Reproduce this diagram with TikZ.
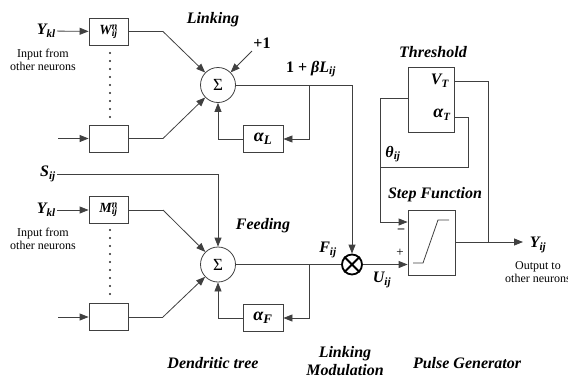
\documentclass[tikz,border=0pt]{standalone}
\usepackage{fontspec}
\setmainfont{Liberation Serif}
\usetikzlibrary{arrows.meta}
\tikzset{
  ln/.style={line width=0.8pt, draw=black!75},
  arr/.style={ln, -{Triangle[length=9pt,width=7pt]}},
  blk/.style={ln, draw, rectangle, minimum width=39pt, minimum height=27pt, inner sep=0pt},
  sumc/.style={ln, draw, circle, minimum size=35pt, inner sep=0pt, font=\fontsize{17}{17}\selectfont},
  lab/.style={font=\fontsize{16}{18}\selectfont\bfseries\itshape, inner sep=1pt},
  sml/.style={font=\fontsize{12}{13.5}\selectfont, align=center, inner sep=0pt},
  dotl/.style={line width=2.2pt, line cap=round, dash pattern=on 0pt off 8pt, black!85},
}
\begin{document}
\begin{tikzpicture}[x=1pt,y=-1pt]
\useasboundingbox (0,0) rectangle (568,378);
% ---------- Linking ----------
\node[lab, anchor=east] (Ykl1) at (57,31) {Y\textsubscript{kl}};
\node[sml] (in1) at (43,60) {Input from\\other neurons};
\node[blk] (W) at (108.5,31.5) {\fontsize{14}{14}\selectfont\bfseries\itshape W\rlap{\textsuperscript{n}}\textsubscript{ij}};
\node[blk] (B1) at (108.5,138.5) {};
\coordinate (i2) at (58,138.5);
\draw[dotl] (110,53) -- (110,120);
\node[sumc] (sL) at (218,85) {Σ};
\node[lab] (link) at (213,20) {Linking};
\node[lab] (p1) at (262,43) {\upshape +1};
\coordinate (p1s) at (252,51);
\node[blk, minimum width=40pt] (aL) at (263,138.5) {\fontsize{18}{18}\selectfont\bfseries\itshape α\textsubscript{\fontsize{13}{13}\selectfont L}};
\node[lab] (bl) at (311,69) {\upshape 1 + \itshape βL\textsubscript{ij}};
\coordinate (W1) at (163,31.5);
\coordinate (B1r) at (163,138.5);
\coordinate (bL) at (309,85);
\coordinate (bL2) at (309,139);
\coordinate (aLl) at (218,139);
\coordinate (cL) at (352,85);
\draw[ln] (W) -- (W1); \draw[arr] (W1) -- (sL);
\draw[ln] (B1) -- (B1r); \draw[arr] (B1r) -- (sL);
\draw[arr] (Ykl1) -- (W);
\draw[arr] (i2) -- (B1);
\draw[arr] (p1s) -- (sL);
\draw[ln] (sL) -- (cL);
\draw[arr] (bL) -- (bL2) -- (aL.east |- bL2);
\draw[arr] (aL.west |- aLl) -- (aLl) -- (sL);
% ---------- Feeding ----------
\node[lab, anchor=east] (Sij) at (57,174) {S\textsubscript{ij}};
\node[lab, anchor=east] (Ykl2) at (57,210) {Y\textsubscript{kl}};
\node[sml] (in2) at (43,239) {Input from\\other neurons};
\node[blk] (M) at (108.5,210) {\fontsize{14}{14}\selectfont\bfseries\itshape M\rlap{\textsuperscript{n}}\textsubscript{ij}};
\node[blk] (B2) at (108.5,317) {};
\coordinate (i4) at (58,317);
\draw[dotl] (110,230) -- (110,298);
\node[sumc] (sF) at (218,264.5) {Σ};
\node[lab] (feed) at (263,226) {Feeding};
\node[blk, minimum width=40pt] (aF) at (263,317.5) {\fontsize{18}{18}\selectfont\bfseries\itshape α\textsubscript{\fontsize{13}{13}\selectfont F}};
\coordinate (M1) at (163,210);
\coordinate (B2r) at (163,317);
\coordinate (sS) at (218,174);
\coordinate (bF) at (309,264.5);
\coordinate (bF2) at (309,318);
\coordinate (aFl) at (218,318);
\draw[arr] (Ykl2) -- (M);
\draw[arr] (i4) -- (B2);
\draw[ln] (M) -- (M1); \draw[arr] (M1) -- (sF);
\draw[ln] (B2) -- (B2r); \draw[arr] (B2r) -- (sF);
\draw[arr] (Sij) -- (sS) -- (sF);
\draw[arr] (bF) -- (bF2) -- (aF.east |- bF2);
\draw[arr] (aF.west |- aFl) -- (aFl) -- (sF);
% ---------- Modulation ----------
\node[circle, draw, line width=1.8pt, minimum size=20pt, inner sep=0pt] (mult) at (352,264.5) {};
\draw[line width=1.8pt] (mult.north west) -- (mult.south east) (mult.north east) -- (mult.south west);
\draw[arr] (cL) -- (mult);
\draw[ln] (sF) -- (mult);
\node[lab] (Fij) at (328,250) {F\textsubscript{ij}};
\node[lab] (Uij) at (382,280) {U\textsubscript{ij}};
% ---------- Pulse generator ----------
\node[ln, draw, rectangle, minimum width=47pt, minimum height=65pt] (step) at (431.5,242.5) {};
\draw[ln] (413,263) -- (423,263) -- (438,220) -- (449,220);
\node[lab] (stl) at (435,195) {Step Function};
\draw[arr] (mult) -- (step.west |- mult);
\node[font=\fontsize{13}{13}\selectfont] (plus) at (400,253) {+};
\node[font=\fontsize{13}{13}\selectfont\bfseries] (minus) at (401,231) {--};
\node[ln, draw, rectangle, minimum width=46pt, minimum height=65pt] (thr) at (431,99.5) {};
\node[lab] (thl) at (433,52) {Threshold};
\node[lab] (VT) at (440,81) {V\textsubscript{T}};
\node[lab] (aT) at (442,115) {\fontsize{18}{18}\selectfont α\textsubscript{\fontsize{11}{11}\selectfont T}};
\node[lab] (th) at (393,154) {θ\textsubscript{ij}};
\coordinate (t1) at (380,98);
\coordinate (t2) at (380,222);
\coordinate (a1) at (468,117);
\coordinate (a2) at (468,167);
\coordinate (a3) at (380,167);
\draw[ln] (thr.west |- t1) -- (t1);
\draw[arr] (t1) -- (t2) -- (step.west |- t2);
\draw[ln] (thr.east |- a1) -- (a1) -- (a2) -- (a3);
\coordinate (o1) at (523,242);
\coordinate (ob) at (488,242);
\coordinate (ob2) at (488,81);
\draw[arr] (step.east |- o1) -- (o1);
\draw[ln] (ob) -- (ob2) -- (thr.east |- ob2);
\node[lab] (Yij) at (538,245) {Y\textsubscript{ij}};
\node[sml] (out) at (538,272) {Output to\\other neurons};
% ---------- bottom labels ----------
\node[lab] (dt) at (213,363) {Dendritic tree};
\node[lab, align=center, font=\fontsize{16}{18}\selectfont\bfseries\itshape] (lm) at (345,361) {Linking\\Modulation};
\node[lab] (pg) at (467,363) {Pulse Generator};
\end{tikzpicture}
\end{document}
